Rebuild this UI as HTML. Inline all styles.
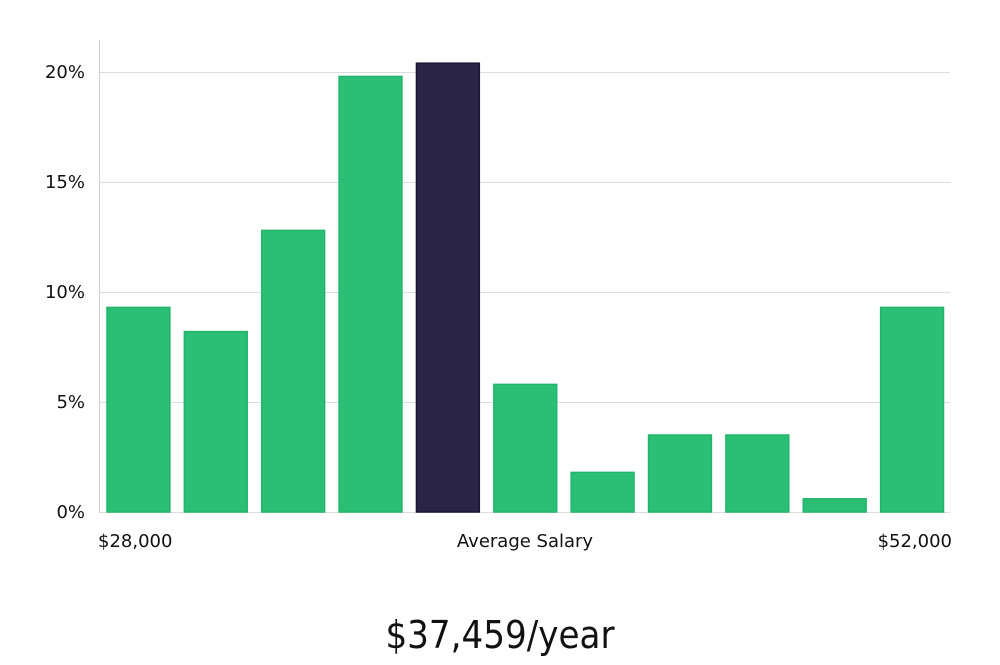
<!DOCTYPE html>
<html><head><meta charset="utf-8"><style>
body{margin:0;background:#fff;width:1000px;height:660px;overflow:hidden;font-family:"Liberation Sans","DejaVu Sans",sans-serif;}
svg text{font-family:"DejaVu Sans","Liberation Sans",sans-serif;}
</style></head><body>
<svg width="1000" height="660">
<g id="grid"></g>
<g id="bars"></g>
<line x1="99.5" y1="40" x2="99.5" y2="512" stroke="#ccc"/>
<text x="98" y="547" font-size="18" fill="#111">$28,000</text>
<text x="525" y="547" font-size="18" fill="#111" text-anchor="middle">Average Salary</text>
<text x="952" y="547" font-size="18" fill="#111" text-anchor="end">$52,000</text>
<text x="500" y="648" font-size="38" fill="#111" text-anchor="middle" font-weight="300" style="font-family:'DejaVu Sans Condensed','Liberation Sans Narrow','Liberation Sans',sans-serif">$37,459/year</text>
</svg>
<script>
const values=[9.3,8.2,12.8,19.8,20.4,5.8,1.8,3.5,3.5,0.6,9.3];
const highlightIndex=4;
const ticks=[0,5,10,15,20];
const tickLabels=["0%","5%","10%","15%","20%"];
const ns="http://www.w3.org/2000/svg";
const x0=99,x1=950,yBase=512,yPerPct=22;
const y=v=>yBase-v*yPerPct;
const slot=(x1-x0)/values.length;
const grid=document.getElementById('grid');
ticks.forEach((t,i)=>{
 const l=document.createElementNS(ns,'line');
 
 
 l.setAttribute('x1',x0);l.setAttribute('x2',x1);
 l.setAttribute('y1',Math.round(y(t))+0.5);l.setAttribute('y2',Math.round(y(t))+0.5);
 l.setAttribute('stroke','#ddd');grid.appendChild(l);
 const tx=document.createElementNS(ns,'text');
 
 
 tx.setAttribute('x',85);tx.setAttribute('y',y(t)+6);
 tx.setAttribute('text-anchor','end');tx.setAttribute('font-size','18');tx.setAttribute('fill','#111');
 tx.textContent=tickLabels[i];grid.appendChild(tx);
});
const bars=document.getElementById('bars');
values.forEach((v,i)=>{
 const r=document.createElementNS(ns,'rect');
 
 
 r.setAttribute('x',x0+i*slot+8);r.setAttribute('width',slot-14.5);
 r.setAttribute('y',y(v));r.setAttribute('height',yBase-y(v));
 const hi=i===highlightIndex;
 r.setAttribute('fill',hi?'#2a2545':'#2bbf76');
 r.setAttribute('stroke',hi?'#1a1535':'#22b56a');r.setAttribute('stroke-width','1.5');
 bars.appendChild(r);
});
</script>
</body></html>
